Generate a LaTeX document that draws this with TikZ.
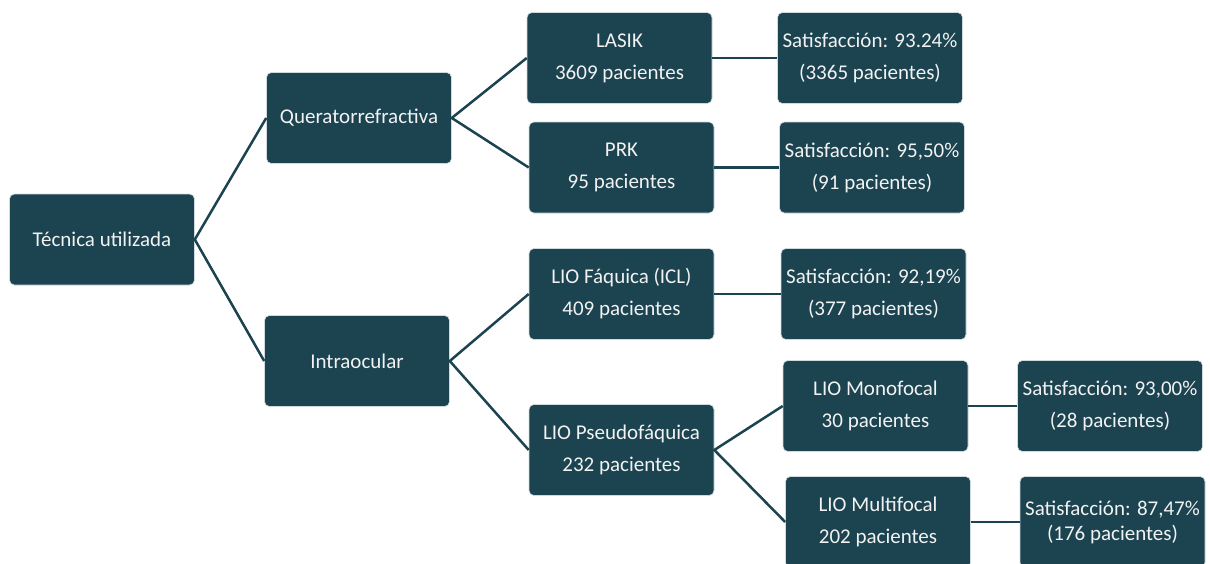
\documentclass[tikz,border=0pt]{standalone}
\usepackage{fontspec}
\setmainfont{Carlito}
\definecolor{petrol}{RGB}{27,67,80}

\begin{document}
\begin{tikzpicture}[x=1pt,y=-1pt,
  box/.style={fill=petrol, draw=white!80!petrol, line width=0.6pt, rounded corners=5pt,
    minimum width=185pt, minimum height=91pt, inner sep=0pt, text=white!95!black,
    align=center, font=\fontsize{21}{32}\selectfont},
  link/.style={draw=petrol, line width=2.5pt}]
\useasboundingbox (0,0) rectangle (1210,563);

\node[box] (tec) at (102,239.5) {T\'ecnica utilizada};
\node[box] (quer) at (359,118) {Queratorrefractiva};
\node[box] (intra) at (357,361) {Intraocular};

\node[box] (lasik) at (619.5,58) {LASIK\\3609 pacientes};
\node[box] (prk) at (621.5,167.5) {PRK\\95 pacientes};
\node[box] (icl) at (621.5,294) {LIO F\'aquica (ICL)\\409 pacientes};
\node[box] (pseudo) at (621.5,450) {LIO Pseudof\'aquica\\232 pacientes};

\node[box] (mono) at (875.5,406) {LIO Monofocal\\30 pacientes};
\node[box] (multi) at (878,522) {LIO Multifocal\\202 pacientes};

\node[box] (satlasik) at (870,58) {Satisfacci\'on: 93.24\%\\(3365 pacientes)};
\node[box] (satprk) at (872,167.5) {Satisfacci\'on: 95,50\%\\(91 pacientes)};
\node[box] (saticl) at (873.5,294) {Satisfacci\'on: 92,19\%\\(377 pacientes)};
\node[box] (satmono) at (1110,406) {Satisfacci\'on: 93,00\%\\(28 pacientes)};
\node[box, font=\fontsize{21}{25}\selectfont] (satmulti) at (1112.5,522)
  {Satisfacci\'on: 87,47\%\\(176 pacientes)};

\draw[link] (quer.west) -- (tec.east) -- (intra.west);
\draw[link] (lasik.west) -- (quer.east) -- (prk.west);
\draw[link] (icl.west) -- (intra.east) -- (pseudo.west);
\draw[link] (mono.west) -- (pseudo.east) -- (multi.west);

\draw[link] (lasik) -- (satlasik);
\draw[link] (prk) -- (satprk);
\draw[link] (icl) -- (saticl);
\draw[link] (mono) -- (satmono);
\draw[link] (multi) -- (satmulti);

\end{tikzpicture}
\end{document}
